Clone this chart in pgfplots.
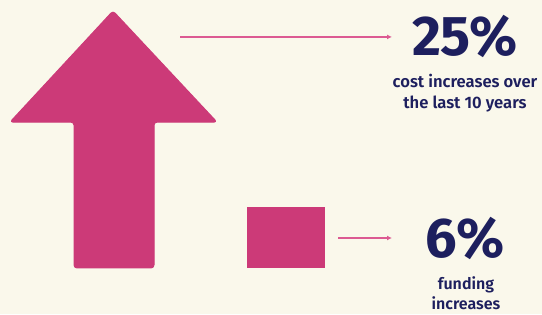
\documentclass[border=0pt]{standalone}
\usepackage{pgfplots}
\pgfplotsset{compat=1.18}
\usetikzlibrary{arrows.meta}
\usepackage{fontspec}
\setmainfont{Fira Sans}
\newfontfamily\firasemi{Fira Sans SemiBold}
\definecolor{bg}{HTML}{FAF8EB}
\definecolor{pinkfill}{HTML}{CC3A78}
\definecolor{navy}{HTML}{1D1F5E}
\definecolor{linepink}{HTML}{DC5A92}
\begin{document}
\begin{tikzpicture}
\begin{axis}[
  scale only axis, width=542pt, height=314pt,
  xmin=0, xmax=542, ymin=-4.51, ymax=26.27,
  axis line style={draw=none}, ticks=none,
  axis background/.style={fill=bg},
  clip=false,
]
% cost increase arrow: tip at 25 (%)
\addplot[fill=pinkfill, draw=pinkfill, line width=1pt, line join=round, rounded corners=3pt]
  coordinates {(74,0) (74,14.3) (10,14.3) (113,25.2) (217,14.3) (154,14.3) (154,0)} -- cycle;
% funding increase block: top at 6 (%)
\addplot[fill=pinkfill, draw=none]
  coordinates {(247,0) (247,6) (325,6) (325,0)} -- cycle;
% connectors
\addplot[linepink, line width=1.4pt, -{Latex[length=5pt,width=5pt]}]
  coordinates {(180,22.65) (392,22.65)};
\addplot[linepink, line width=1.4pt, -{Latex[length=5pt,width=5pt]}]
  coordinates {(338,2.94) (392,2.94)};
% labels
\node[navy, font=\fontsize{56}{56}\selectfont\bfseries] at (axis cs:465,22.65) {25\%};
\node[navy, align=center, font=\fontsize{16.6}{20.5}\selectfont\firasemi] at (axis cs:465,17.16) {cost increases over\\the last 10 years};
\node[navy, font=\fontsize{56}{56}\selectfont\bfseries] at (axis cs:465,2.94) {6\%};
\node[navy, align=center, font=\fontsize{16}{20}\selectfont\firasemi] at (axis cs:466,-2.45) {funding\\increases};
\end{axis}
\pgfresetboundingbox
\useasboundingbox (current axis.south west) rectangle (current axis.north east);
\end{tikzpicture}
\end{document}
